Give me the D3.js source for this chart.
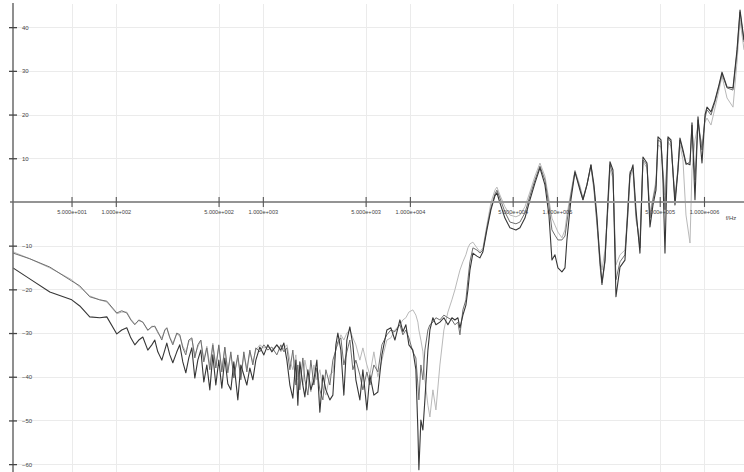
<!DOCTYPE html>
<html>
<head>
<meta charset="utf-8">
<script src="https://cdn.jsdelivr.net/npm/d3@7"></script>
<style>
  html, body { margin: 0; padding: 0; background: #ffffff; }
  svg { display: block; }
</style>
</head>
<body>
<svg id="chart" width="744" height="472"></svg>
<script>
// Measured frequency response: three traces sharing one frequency grid (Hz) and levels in dB.
const freqHz = [20, 26.0, 35.6, 50.2, 56.9, 66.5, 77.8, 86.9, 101.6, 109.8,
  118.8, 126.5, 134.7, 143.4, 152.7, 165.1, 175.8, 184.2, 193.1, 205.6,
  215.4, 222.3, 233.0, 244.3, 260.0, 272.5, 285.6, 299.4, 313.8, 328.9,
  344.7, 361.3, 378.7, 396.9, 416.0, 436.1, 457.0, 479.0, 502.0, 526.2,
  551.5, 578.0, 605.9, 635.0, 676.0, 708.5, 742.6, 778.5, 815.8, 855.1,
  896.2, 954.1, 1016, 1081, 1151, 1245, 1326, 1390, 1457, 1527,
  1600, 1677, 1730, 1785, 1871, 1931, 2024, 2121, 2223, 2330,
  2442, 2560, 2683, 2856, 2994, 3138, 3237, 3393, 3556, 3727,
  3906, 4095, 4292, 4570, 4790, 5100, 5345, 5690, 6059, 6451,
  6976, 7426, 7907, 8551, 8962, 9393, 9845, 10480, 10985, 11334,
  11513, 11880, 12260, 12650, 13260, 13680, 14340, 15030, 16000, 17030,
  18140, 19310, 20240, 21210, 21890, 22940, 24040, 24810, 25600, 26830,
  28560, 29940, 31380, 33400, 35560, 37860, 39060, 40950, 44290, 47900,
  52620, 56020, 60590, 65530, 70850, 76640, 82880, 88220, 92480, 96920,
  101600, 108100, 113400, 116900, 124500, 132600, 143400, 150300, 160000, 170300,
  178500, 187100, 196100, 202400, 212100, 222300, 229400, 240400, 252000, 268300,
  290100, 304100, 313800, 328900, 344700, 366900, 384600, 409500, 429200, 449900,
  471500, 486600, 510000, 526200, 542900, 569000, 596400, 634800, 665300, 686500,
  719500, 754400, 803100, 828700, 868500, 910400, 969200, 1016000, 1048000, 1116000,
  1188000, 1265000, 1326000, 1434000, 1575000, 1677000, 1758000, 1871000];

const levelDark = [-15.1, -17.6, -20.6, -22.4, -23.8, -26.3, -26.5, -26.3, -30.2, -29.3,
  -28.8, -31.1, -32.7, -31.6, -30.9, -33.9, -32.7, -31.6, -34.3, -36.2,
  -33.9, -32.3, -35.0, -36.8, -34.3, -32.7, -36.6, -39.1, -35.7, -33.4,
  -40.3, -36.2, -33.9, -41.2, -37.3, -43.0, -35.0, -41.9, -36.2, -42.6,
  -35.7, -41.6, -43.0, -36.6, -45.3, -37.3, -39.6, -41.9, -38.0, -40.7,
  -36.2, -33.2, -35.0, -32.7, -34.3, -32.7, -33.9, -32.3, -36.2, -41.9,
  -44.9, -36.2, -46.5, -36.6, -41.9, -44.6, -38.4, -43.0, -40.7, -36.2,
  -48.1, -39.6, -43.0, -45.3, -44.2, -32.7, -30.0, -33.9, -44.2, -31.6,
  -28.6, -32.7, -40.7, -45.3, -38.4, -47.6, -39.6, -44.2, -43.5, -35.0,
  -29.3, -28.8, -31.6, -27.0, -29.7, -28.1, -32.7, -33.9, -38.4, -52.2,
  -61.3, -49.9, -52.2, -45.3, -33.9, -29.3, -26.5, -28.1, -27.5, -26.5,
  -28.1, -26.5, -27.0, -26.5, -28.8, -25.9, -23.6, -20.1, -15.6, -11.7,
  -12.4, -12.8, -11.4, -6.4, -1.8, 1.4, 2.1, -0.2, -3.7, -5.9,
  -6.4, -5.9, -3.7, 0.5, 4.3, 7.8, 3.9, -3.0, -13.3, -12.1,
  -15.1, -16.0, -15.1, -8.7, 0.5, 6.9, 2.7, 0.5, 3.9, 8.5,
  3.9, -3.4, -13.3, -18.5, -13.3, 0.5, 9.2, 7.3, -21.7, -14.9,
  -13.3, -1.8, 6.2, 8.5, -1.8, -11.7, 10.3, 8.9, -5.7, -0.7,
  2.7, 14.9, 14.2, 5.0, -11.7, 14.9, 14.2, -0.7, 7.3, 14.6,
  11.9, 8.9, 8.5, 18.1, 0.5, 19.5, 8.9, 19.9, 21.7, 20.6,
  23.3, 26.8, 29.7, 26.3, 26.1, 34.8, 43.9, 37.1];

const levelMid = [-11.7, -13.0, -14.9, -18.1, -19.2, -21.7, -22.4, -22.7, -25.4, -24.9,
  -25.4, -27.0, -28.1, -27.0, -27.5, -29.3, -28.6, -28.4, -29.7, -31.6,
  -29.3, -28.8, -31.1, -32.7, -30.0, -30.4, -33.4, -35.0, -31.6, -31.1,
  -35.7, -32.7, -31.6, -36.6, -33.4, -38.4, -32.7, -38.0, -32.7, -38.9,
  -33.2, -39.1, -34.3, -40.3, -35.0, -40.7, -34.3, -38.9, -33.9, -37.3,
  -33.4, -34.3, -32.7, -33.9, -33.2, -35.0, -32.7, -34.3, -33.4, -38.4,
  -33.9, -41.9, -37.3, -43.0, -35.7, -40.7, -44.2, -36.2, -41.9, -38.0,
  -43.0, -45.3, -38.4, -41.9, -36.2, -33.9, -32.0, -31.1, -37.3, -34.3,
  -31.6, -38.4, -36.2, -39.6, -43.0, -38.9, -41.9, -37.3, -38.9, -32.7,
  -30.4, -29.3, -29.7, -28.1, -30.4, -29.3, -31.1, -34.3, -35.7, -41.9,
  -45.3, -37.3, -40.7, -33.9, -29.3, -28.1, -27.5, -26.5, -27.0, -25.9,
  -26.5, -27.0, -28.1, -27.5, -30.4, -24.7, -22.4, -17.8, -13.7, -10.5,
  -11.0, -11.7, -11.0, -5.9, -1.4, 1.8, 2.7, 0.9, -2.3, -4.6,
  -5.0, -4.6, -2.5, 1.4, 5.0, 8.2, 5.0, -0.7, -6.4, -7.6,
  -8.7, -8.7, -7.8, -4.6, 1.6, 6.9, 3.2, 0.5, 3.9, 8.5,
  3.2, -4.6, -14.4, -19.0, -13.7, -0.7, 8.5, 6.2, -17.8, -13.7,
  -12.1, -0.7, 6.9, 7.8, -3.0, -10.5, 9.6, 8.5, -3.7, 0.5,
  3.9, 14.2, 13.7, 6.2, -1.8, 14.6, 13.7, 0.5, 7.8, 14.2,
  11.4, 8.5, 9.2, 17.6, 5.0, 18.8, 11.9, 19.2, 21.1, 19.9,
  22.9, 26.5, 29.3, 26.1, 25.6, 34.3, 43.5, 36.6];

const levelLight = [-11.4, -13.0, -15.1, -17.8, -19.5, -21.5, -22.4, -22.9, -25.6, -25.2,
  -25.2, -26.8, -27.9, -27.2, -27.5, -29.5, -28.4, -28.6, -30.0, -31.1,
  -29.5, -28.8, -30.9, -32.3, -30.2, -30.7, -33.0, -34.3, -32.0, -31.3,
  -35.0, -33.2, -31.6, -36.2, -33.0, -37.3, -32.3, -37.5, -33.0, -38.4,
  -33.4, -38.4, -35.0, -39.6, -35.7, -40.3, -35.0, -38.0, -34.3, -36.6,
  -33.9, -32.7, -33.4, -33.2, -33.9, -32.7, -34.3, -33.4, -32.7, -36.2,
  -38.4, -35.0, -40.7, -38.0, -41.9, -36.2, -39.6, -43.5, -37.3, -40.7,
  -38.4, -42.6, -44.2, -39.6, -38.9, -33.4, -32.7, -30.4, -31.6, -30.0,
  -29.3, -31.1, -32.7, -36.2, -33.4, -37.3, -39.6, -34.3, -40.0, -36.2,
  -31.6, -31.1, -29.3, -28.1, -27.0, -26.5, -25.2, -24.7, -25.9, -27.5,
  -29.3, -31.6, -34.3, -40.7, -46.5, -49.2, -43.0, -47.6, -37.3, -29.3,
  -25.2, -22.4, -20.1, -17.4, -15.6, -13.7, -12.1, -10.5, -9.6, -9.2,
  -10.5, -11.4, -10.5, -5.3, -0.2, 2.7, 3.4, 1.6, -1.1, -3.0,
  -3.4, -3.0, -1.1, 2.3, 5.9, 8.9, 5.9, 0.5, -3.7, -5.3,
  -6.9, -8.2, -6.4, -3.0, 2.3, 7.3, 3.7, 0.9, 4.1, 8.0,
  2.7, -5.3, -12.1, -15.6, -11.0, -1.4, 7.3, 5.5, -14.4, -12.1,
  -11.0, -3.0, 5.5, 7.3, -4.1, -8.7, 9.2, 7.8, -2.3, 0.9,
  5.0, 13.0, 12.6, 7.3, 1.6, 13.7, 12.8, 0.9, 6.9, 13.0,
  9.6, -3.0, -9.4, 7.3, 14.2, 17.6, 13.0, 18.3, 19.2, 17.6,
  21.5, 25.6, 28.8, 23.8, 21.7, 32.0, 41.6, 34.8];

// Axis ticks and their printed labels
const dbTicks = [40, 30, 20, 10, -10, -20, -30, -40, -50, -60];
const freqTicks = [50, 100, 500, 1000, 5000, 10000, 50000, 100000, 500000, 1000000];
const freqTickLabels = ["5.000e+001", "1.000e+002", "5.000e+002", "1.000e+003", "5.000e+003",
  "1.000e+004", "5.000e+004", "1.000e+005", "5.000e+005", "1.000e+006"];
const freqUnit = "f/Hz";

const chartW = 744, chartH = 472;
const plotLeft = 13, plotTop = 4, plotBottom = 472, plotRight = 744;

const svg = d3.select("#chart");

const x = d3.scaleLog().domain([20, 1.871e6]).range([plotLeft, plotRight]);
const y = d3.scaleLinear().domain([-61.8, 45.3]).range([plotBottom, plotTop]);

// Grid
const grid = svg.append("g").attr("stroke", "#ebebeb").attr("stroke-width", 1);
grid.selectAll("line.h").data(dbTicks).join("line")
  .attr("class", "h")
  .attr("x1", plotLeft).attr("x2", plotRight)
  .attr("y1", d => Math.round(y(d)) + 0.5).attr("y2", d => Math.round(y(d)) + 0.5);
grid.selectAll("line.v").data(freqTicks).join("line")
  .attr("class", "v")
  .attr("x1", d => Math.round(x(d)) + 0.5).attr("x2", d => Math.round(x(d)) + 0.5)
  .attr("y1", plotTop).attr("y2", plotBottom);

// Traces
svg.append("clipPath").attr("id", "plot-clip")
  .append("rect").attr("x", plotLeft).attr("y", 0)
  .attr("width", plotRight - plotLeft).attr("height", chartH);

const line = d3.line()
  .x(d => x(d[0]))
  .y(d => y(d[1]));

const traces = [
  { values: levelLight, color: "#b9b9b9", w: 1 },
  { values: levelMid, color: "#6f6f6f", w: 1 },
  { values: levelDark, color: "#363636", w: 1.1 }
];
const tg = svg.append("g").attr("clip-path", "url(#plot-clip)");
traces.forEach(t => {
  tg.append("path")
    .datum(d3.zip(freqHz, t.values))
    .attr("fill", "none")
    .attr("stroke", t.color)
    .attr("stroke-width", t.w)
    .attr("stroke-linejoin", "round")
    .attr("d", line);
});

// X axis on the 0 dB line
const gx = svg.append("g").attr("transform", `translate(0,${y(0)})`);
gx.append("line")
  .attr("x1", 10).attr("x2", plotRight)
  .attr("stroke", "#949494").attr("stroke-width", 2);
gx.call(d3.axisBottom(x).tickValues(freqTicks)
    .tickFormat((d, i) => freqTickLabels[i]).tickSize(5).tickPadding(6))
  .call(g => g.select(".domain").remove())
  .call(g => g.selectAll(".tick line").attr("y1", -5).attr("stroke", "#555").attr("stroke-width", 1.1))
  .call(g => g.selectAll(".tick text")
    .attr("y", 8.5)
    .attr("fill", "#444")
    .style("font-family", "'Liberation Sans', Arial, sans-serif")
    .style("font-size", "5.6px"));
gx.append("text")
  .attr("x", 731).attr("y", 18)
  .attr("fill", "#444")
  .style("font-family", "'Liberation Sans', Arial, sans-serif")
  .style("font-size", "6px")
  .text(freqUnit);

// Y axis
const gy = svg.append("g").attr("transform", `translate(${plotLeft},0)`);
gy.append("line")
  .attr("y1", plotTop - 1).attr("y2", plotBottom)
  .attr("stroke", "#6a6a6a").attr("stroke-width", 1.5);
gy.call(d3.axisRight(y).tickValues(dbTicks).tickSize(4).tickPadding(5))
  .call(g => g.select(".domain").remove())
  .call(g => g.selectAll(".tick line").attr("x1", -4).attr("stroke", "#444").attr("stroke-width", 1.3))
  .call(g => g.selectAll(".tick text")
    .attr("fill", "#444")
    .style("font-family", "'Liberation Sans', Arial, sans-serif")
    .style("font-size", "6px"));
</script>
</body>
</html>
